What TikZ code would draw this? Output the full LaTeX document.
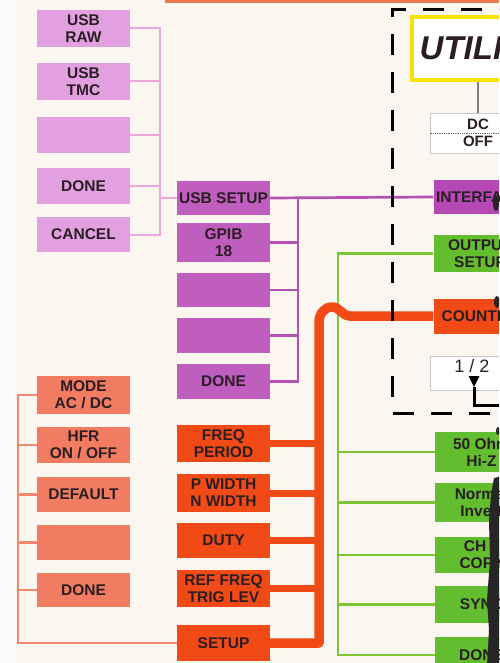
\documentclass[tikz,border=0pt]{standalone}
\usepackage{fontspec}
\setmainfont{Liberation Sans}
\usepackage{tikz}
\usetikzlibrary{arrows.meta}

\definecolor{paper}{RGB}{252,246,240}
\definecolor{inkdark}{RGB}{42,30,34}
\definecolor{usbpink}{RGB}{226,160,224}
\definecolor{usbline}{RGB}{234,168,222}
\definecolor{gpibpurple}{RGB}{192,94,192}
\definecolor{purpleline}{RGB}{180,82,180}
\definecolor{interpurple}{RGB}{182,72,182}
\definecolor{cntred}{RGB}{242,74,22}
\definecolor{modesalmon}{RGB}{242,124,98}
\definecolor{salline}{RGB}{242,136,110}
\definecolor{outgreen}{RGB}{98,190,46}
\definecolor{greenline}{RGB}{124,198,52}
\definecolor{utilyellow}{RGB}{250,226,0}
\definecolor{topstrip}{RGB}{236,120,78}

\begin{document}
\begin{tikzpicture}[x=1pt, y=-1pt,
    menubox/.style={rectangle, inner sep=0pt, minimum width=93pt, align=center,
                    text=inkdark, font=\bfseries\fontsize{15.5}{17}\selectfont},
    usbbox/.style={menubox, fill=usbpink},
    gpibbox/.style={menubox, fill=gpibpurple},
    redbox/.style={menubox, fill=cntred},
    salbox/.style={menubox, fill=modesalmon},
    greenbox/.style={menubox, fill=outgreen},
    whitebox/.style={menubox, minimum width=96pt, fill=white, draw=black!22, line width=0.8pt},
    pinkwire/.style={draw=usbline, line width=2pt},
    purplewire/.style={draw=purpleline, line width=2.7pt},
    salwire/.style={draw=salline, line width=2.5pt},
    greenwire/.style={draw=greenline, line width=2.6pt},
    redstub/.style={draw=cntred, line width=7pt},
    redwire/.style={draw=cntred, line width=9.5pt, line join=round}]
            \useasboundingbox (0,0) rectangle (499,663);
            \clip (0,0) rectangle (499,663);

            % 纸面背景
            \fill[paper] (0,0) rectangle (499,663);
            \fill[white, opacity=0.6] (0,0) rectangle (16,663);
            \fill[topstrip] (165,0) rectangle (499,3.5);

            % 总线位置
            \coordinate (usbbus) at (160,0);
            \coordinate (gpibbus) at (298,0);
            \coordinate (salbus) at (18,0);
            \coordinate (greenbus) at (338,0);
            \coordinate (redbus) at (319,0);

            % 左列 USB 子菜单
            \node[usbbox, minimum height=37pt] (usbraw) at (83.5,28.5) {USB\\RAW};
            \node[usbbox, minimum height=37pt] (usbtmc) at (83.5,81.5) {USB\\TMC};
            \node[usbbox, minimum height=36pt] (usbblank) at (83.5,135) {};
            \node[usbbox, minimum height=36pt] (usbdone) at (83.5,186) {DONE};
            \node[usbbox, minimum height=35pt] (usbcancel) at (83.5,234.5) {CANCEL};

            % 中列 接口菜单
            \node[gpibbox, minimum height=34pt] (usbsetup) at (223.5,198) {USB SETUP};
            \node[gpibbox, minimum height=39pt] (gpib) at (223.5,242.5) {GPIB\\18};
            \node[gpibbox, minimum height=34pt] (gpibblankA) at (223.5,290) {};
            \node[gpibbox, minimum height=35pt] (gpibblankB) at (223.5,335.5) {};
            \node[gpibbox, minimum height=35pt] (gpibdone) at (223.5,381.5) {DONE};

            % 左列 计数器设置
            \node[salbox, minimum height=38pt] (mode) at (83.5,395) {MODE\\AC / DC};
            \node[salbox, minimum height=36pt] (hfr) at (83.5,445) {HFR\\ON / OFF};
            \node[salbox, minimum height=35pt] (default) at (83.5,494.5) {DEFAULT};
            \node[salbox, minimum height=35pt] (salblank) at (83.5,542.5) {};
            \node[salbox, minimum height=34pt] (saldone) at (83.5,590) {DONE};

            % 中列 计数器菜单
            \node[redbox, minimum height=37pt] (freq) at (223.5,443.5) {FREQ\\PERIOD};
            \node[redbox, minimum height=38pt] (pwidth) at (223.5,493) {P WIDTH\\N WIDTH};
            \node[redbox, minimum height=35pt] (duty) at (223.5,540.5) {DUTY};
            \node[redbox, minimum height=37pt] (reffreq) at (223.5,588.5) {REF FREQ\\TRIG LEV};
            \node[redbox, minimum height=36pt] (setup) at (223.5,643) {SETUP};

            % 右列 UTILITY 菜单
            \node[rectangle, draw=utilyellow, line width=4pt, fill=white, inner sep=0pt,
                  minimum width=140pt, minimum height=63pt, text=inkdark,
                  font=\fontsize{33}{33}\selectfont\bfseries\itshape] (utility) at (482,48.5) {UTILITY};
            \node[whitebox, minimum height=40pt, font=\bfseries\fontsize{15}{17}\selectfont] (dcoff) at (478,133) {DC\\OFF};
            \node[menubox, fill=interpurple, minimum height=34pt] (interface) at (480,197) {INTERFACE};
            \node[greenbox, minimum height=37pt] (output) at (480,253.5) {OUTPUT\\SETUP};
            \node[redbox, minimum height=35pt] (counter) at (480,316) {COUNTER};
            \node[whitebox, minimum height=34pt] (half) at (478,373) {};
            \node[text=inkdark, inner sep=0pt, font=\fontsize{18}{18}\selectfont] (halflbl) at (472,366) {1 / 2};

            % 右列 输出设置
            \node[greenbox, minimum height=40pt] (ohm) at (481.5,452) {50 Ohm\\Hi-Z};
            \node[greenbox, minimum height=39pt] (normal) at (481.5,502.5) {Normal\\Invert};
            \node[greenbox, minimum height=36pt] (chcopy) at (481.5,555) {CH 1\\COPY};
            \node[greenbox, minimum height=37pt] (sync) at (481.5,604.5) {SYNC};
            \node[greenbox, minimum height=36pt] (outdone) at (481.5,655) {DONE};

            % USB 连线
            \draw[pinkwire] (usbraw.east) -- (usbraw.east -| usbbus) -- (usbcancel.east -| usbbus) -- (usbcancel.east);
            \foreach \n in {usbtmc,usbblank,usbdone}
                \draw[pinkwire] (\n.east) -- (\n.east -| usbbus);
            \draw[pinkwire] (usbsetup.west -| usbbus) -- (usbsetup.west);

            % 接口连线
            \draw[purplewire] (usbsetup.east) -- (interface.west);
            \draw[purplewire] (usbsetup.east -| gpibbus) -- (gpibdone.east -| gpibbus) -- (gpibdone.east);
            \foreach \n in {gpib,gpibblankA,gpibblankB}
                \draw[purplewire] (\n.east) -- (\n.east -| gpibbus);

            % 计数器设置连线
            \draw[salwire] (mode.west) -- (mode.west -| salbus) |- (setup.west);
            \foreach \n in {hfr,default,salblank,saldone}
                \draw[salwire] (\n.west) -- (\n.west -| salbus);

            % 输出设置连线
            \draw[greenwire] (output.west) -- (output.west -| greenbus) -- (outdone.west -| greenbus) -- (outdone.west);
            \foreach \n in {ohm,normal,chcopy,sync}
                \draw[greenwire] (\n.west -| greenbus) -- (\n.west);

            % 计数器连线（跨线弯）
            \coordinate (redtop) at (319,322);
            \coordinate (humptop) at (332,307);
            \coordinate (humpend) at (350,316);
            \foreach \n in {freq,pwidth,duty,reffreq}
                \draw[redstub] (\n.east) -- (\n.east -| redbus);
            \draw[redwire] (setup.east) -| (redtop) to[out=90,in=180] (humptop)
                to[out=0,in=180] (humpend) -- (counter.west);

            % UTILITY 到 DC
            \draw[black!50, line width=1.3pt] (dcoff.north) -- (dcoff.north |- utility.south);
            \draw[black!60, densely dotted, line width=0.8pt] (dcoff.west) -- (dcoff.east);

            % 1/2 标记
            \coordinate (tri) at (474,387);
            \fill[black] (468.5,376) -- (479.5,376) -- (tri) -- cycle;
            \draw[black, line width=3pt] (tri) -- (474,405) -- (505,405);

            % 虚线框
            \draw[black, line width=3pt, dash pattern=on 21pt off 17pt]
                (520,10) -- (392,10) -- (392,413) -- (520,413);

            % 右侧暗影
            \fill[black!85] (496,203) ellipse (3pt and 8pt);
            \fill[black!85] (497,302) ellipse (3pt and 6pt);
            \fill[black!85] (498,431) ellipse (2pt and 4pt);
            \fill[black!85] (494,478) -- (502,476) -- (502,666) -- (487,666)
                -- (489,630) -- (487,600) -- (490,560) -- (489,520) -- (491,495) -- cycle;
        \end{tikzpicture}
\end{document}
